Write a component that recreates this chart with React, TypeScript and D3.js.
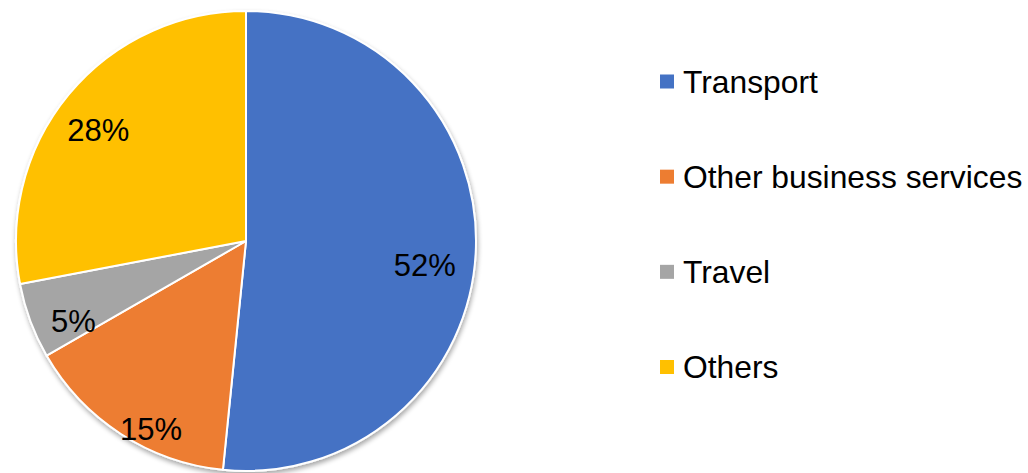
import React from "react";
import * as d3 from "d3";

const categories = ["Transport", "Other business services", "Travel", "Others"];
const values = [51.6, 15.1, 5.3, 28.0];
const labels = ["52%", "15%", "5%", "28%"];
const colors = ["#4472C4", "#ED7D31", "#A5A5A5", "#FFC000"];

const W = 1028;
const H = 473;
const CX = 246;
const CY = 241;
const R = 230;
const LABEL_R = 0.8;
const LABEL_SHIFT: [number, number][] = [
  [-5, 15],
  [5, 33],
  [0, 16],
  [-6, 6],
];
const FONT = "'Liberation Sans', Arial, sans-serif";
const LABEL_FS = 31;
const LEGEND_FS = 31.8;

export default function App() {
  const pie = d3.pie<number>().sort(null).value((d) => d)(values);
  const arc = d3.arc<d3.PieArcDatum<number>>().innerRadius(0).outerRadius(R);
  const labelArc = d3
    .arc<d3.PieArcDatum<number>>()
    .innerRadius(R * LABEL_R)
    .outerRadius(R * LABEL_R);

  const legendY = d3
    .scalePoint<string>()
    .domain(categories)
    .range([92.5, 378])
    .padding(0);

  return (
    <div style={{ position: "absolute", left: 0, top: 0 }}>
      <svg width={W} height={H} style={{ display: "block" }}>
        <defs>
          <filter id="sh" x="-10%" y="-10%" width="120%" height="120%">
            <feGaussianBlur in="SourceAlpha" stdDeviation="2.5" />
            <feOffset dx="1" dy="3" result="b" />
            <feComponentTransfer>
              <feFuncA type="linear" slope="0.35" />
            </feComponentTransfer>
            <feMerge>
              <feMergeNode />
              <feMergeNode in="SourceGraphic" />
            </feMerge>
          </filter>
        </defs>
        <rect width={W} height={H} fill="#ffffff" />
        <g transform={`translate(${CX},${CY})`}>
          <g filter="url(#sh)">
            {pie.map((p, i) => (
              <path
                key={i}
                d={arc(p) || ""}
                fill={colors[i]}
                stroke="#ffffff"
                strokeWidth={2}
                strokeLinejoin="round"
              />
            ))}
          </g>
          {pie.map((p, i) => {
            const [x, y] = labelArc.centroid(p);
            return (
              <text
                key={i}
                x={x + LABEL_SHIFT[i][0]}
                y={y + LABEL_SHIFT[i][1] + LABEL_FS * 0.36}
                textAnchor="middle"
                fontFamily={FONT}
                fontSize={LABEL_FS}
                fill="#000000"
              >
                {labels[i]}
              </text>
            );
          })}
        </g>
        <g>
          {categories.map((c, i) => {
            const y = legendY(c) as number;
            return (
              <g key={c}>
                <rect x={660} y={y - 18} width={14} height={14} fill={colors[i]} />
                <text
                  x={683}
                  y={y}
                  fontFamily={FONT}
                  fontSize={LEGEND_FS}
                  fill="#000000"
                >
                  {c}
                </text>
              </g>
            );
          })}
        </g>
      </svg>
    </div>
  );
}
